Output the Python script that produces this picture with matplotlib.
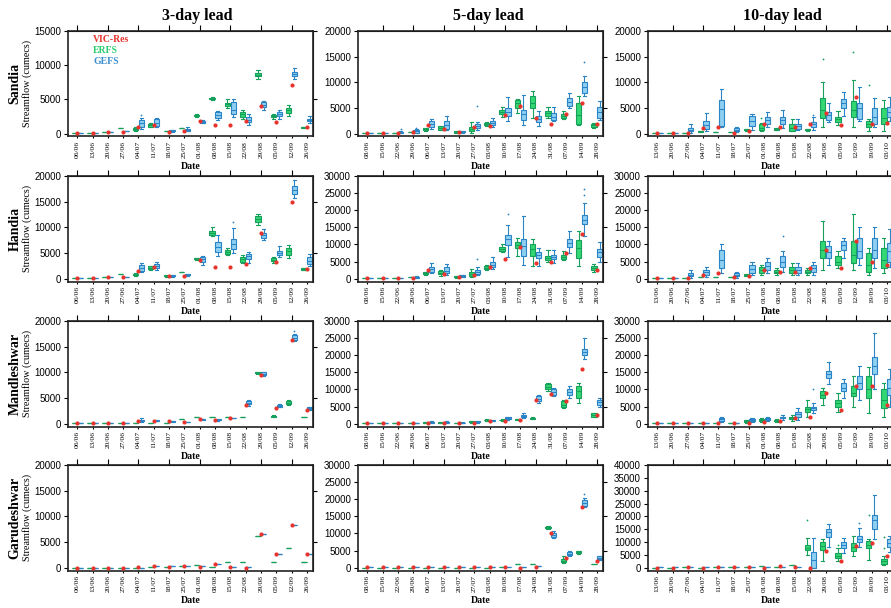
import numpy as np
import matplotlib
matplotlib.use("Agg")
import matplotlib.pyplot as plt

dates3 = ['06/06', '13/06', '20/06', '27/06', '04/07', '11/07', '18/07', '25/07',
          '01/08', '08/08', '15/08', '22/08', '29/08', '05/09', '12/09', '26/09']
dates5 = ['08/06', '15/06', '22/06', '29/06', '06/07', '13/07', '20/07', '27/07',
          '03/08', '10/08', '17/08', '24/08', '31/08', '07/09', '14/09', '28/09']
dates10 = ['13/06', '20/06', '27/06', '04/07', '11/07', '18/07', '25/07', '01/08',
           '08/08', '15/08', '22/08', '29/08', '05/09', '12/09', '19/09', '03/10']

# box entries: (whisker low, q1, median, q3, whisker high) or one value for a flat box
# outliers: (date index, value)

# ---- Sandia ----
sandia3_vic = [100, 100, 250, 250, 1000, 1300, 250, 350, 1800, 1300, 1200, 1800, 4100, 1700, 7100, 950]
sandia3_erfs = [150, 150, 250, 800, (400, 500, 650, 800, 900), (900, 1000, 1200, 1400, 1500), 300, 750,
                (2500, 2600, 2650, 2750, 2800), (4900, 5000, 5100, 5200, 5300), (3800, 4000, 4300, 4500, 5000),
                (2100, 2400, 2800, 3100, 3400), (8000, 8400, 8600, 8900, 9300), (2200, 2400, 2550, 2700, 2800),
                (2600, 3000, 3400, 3800, 4200), (800, 850, 900, 950, 1000)]
sandia3_erfs_out = []
sandia3_gefs = [150, 150, 250, 300, (700, 1000, 1500, 2000, 2300), (900, 1100, 1600, 2100, 2300),
                (250, 300, 350, 450, 500), (300, 400, 550, 700, 900), (1500, 1600, 1750, 1900, 2000),
                (2000, 2300, 2700, 3200, 3300), (2400, 2900, 3500, 4600, 5000), (1300, 1700, 2000, 2400, 2800),
                (3400, 3900, 4200, 4600, 4800), (2100, 2600, 2900, 3200, 3500), (8000, 8400, 8800, 9100, 9600),
                (1500, 1800, 2000, 2200, 2600)]
sandia3_gefs_out = [(4, 2700)]

sandia5_vic = [150, 150, 200, 300, 1600, 800, 250, 1200, 1500, 3600, 5300, 3000, 1900, 3800, 6000, 1900]
sandia5_erfs = [200, 200, 200, 300, (500, 600, 800, 1000, 1100), (600, 700, 1000, 1400, 1500),
                (150, 200, 350, 500, 550), (200, 500, 800, 1300, 2300), (1400, 1600, 1800, 2100, 2200),
                (3300, 3800, 4300, 4700, 5200), (4000, 5000, 5900, 6500, 6800), (3000, 5000, 6000, 7300, 8400),
                (3000, 3500, 4100, 4500, 5200), (2800, 3100, 3500, 3900, 4400), (1700, 1800, 3600, 6000, 7300),
                (1100, 1300, 1600, 1800, 2100)]
sandia5_erfs_out = []
sandia5_gefs = [200, 200, (150, 200, 250, 300, 400), (150, 200, 400, 600, 800), (800, 1300, 1900, 2400, 2900),
                (600, 900, 1600, 2500, 3500), (200, 250, 350, 450, 500), (600, 1000, 1500, 1900, 2200),
                (1200, 1600, 2000, 2400, 3000), (2500, 3500, 4300, 5000, 7200), (1600, 2600, 3800, 4700, 7500),
                (1500, 2200, 2800, 3400, 4400), (2400, 2600, 3300, 4000, 5200), (5000, 5300, 6200, 7000, 8000),
                (7300, 7900, 9200, 10000, 11300), (2700, 3000, 4200, 5200, 6400)]
sandia5_gefs_out = [(2, 900), (3, 1100), (7, 5300), (14, 14100)]

sandia10_vic = [150, 200, 200, 1000, 1300, 200, 400, 1800, 1300, 1300, 1900, 4100, 1700, 7100, 1900, 2100]
sandia10_erfs = [200, 200, 200, (250, 300, 400, 500, 550), 300, 300, (550, 600, 750, 900, 950),
                 (500, 600, 1000, 1800, 2000), (600, 700, 850, 1000, 1100), (400, 500, 1000, 1800, 2900),
                 (550, 600, 750, 900, 950), (1300, 3000, 4600, 6900, 10000), (1700, 2200, 2800, 3300, 4400),
                 (1300, 3300, 4700, 6300, 10400), (500, 1200, 1800, 2500, 2900), (500, 1800, 3000, 5000, 6500)]
sandia10_erfs_out = [(7, 3000), (11, 14500), (13, 16000), (14, 9500)]
sandia10_gefs = [200, 200, (200, 400, 700, 1000, 1800), (400, 900, 1600, 2400, 4000),
                 (1200, 1400, 4800, 6600, 8800), (300, 500, 700, 1000, 1300), (700, 1400, 2500, 3500, 3800),
                 (1200, 1800, 2600, 3300, 4200), (1100, 1800, 2600, 3300, 4700), (600, 800, 1400, 1900, 2800),
                 (600, 1200, 1800, 2200, 3200), (2200, 2700, 3600, 4300, 6000), (3400, 5000, 5900, 6800, 8200),
                 (2500, 2900, 5000, 6000, 9200), (1300, 1900, 3200, 5000, 7000), (2500, 3300, 4200, 5100, 7200)]
sandia10_gefs_out = [(10, 3700)]

# ---- Handia ----
handia3_vic = [150, 150, 300, 300, 1500, 2200, 400, 500, 3600, 2200, 2200, 2800, 9000, 3200, 14900, 1800]
handia3_erfs = [200, 200, 250, 800, (500, 600, 750, 900, 1000), (1700, 1800, 2100, 2400, 2500),
                (350, 400, 500, 600, 650), 1200, (3700, 3800, 3900, 4000, 4100), (8400, 8600, 9000, 9400, 10000),
                (4700, 4900, 5200, 5600, 6000), (3000, 3300, 3800, 4200, 4600), (10500, 11100, 11600, 12200, 12700),
                (3000, 3400, 3700, 4000, 4300), (4000, 4700, 5400, 6000, 6500), (1600, 1700, 1850, 2000, 2100)]
handia3_erfs_out = []
handia3_gefs = [200, 200, 250, 350, (1200, 1500, 2000, 2700, 3100), (1700, 2000, 2400, 2900, 3200),
                (350, 400, 550, 700, 750), (550, 600, 750, 900, 950), (2700, 3300, 3800, 4300, 4500),
                (4500, 5200, 6200, 7200, 8500), (5000, 5700, 6800, 7800, 9800), (3000, 3900, 4400, 4800, 5200),
                (7500, 8000, 8500, 8900, 9700), (4300, 4700, 5000, 5400, 6300), (15700, 16500, 17300, 18100, 19300),
                (2500, 2900, 3500, 4300, 4800)]
handia3_gefs_out = [(10, 11100)]

handia5_vic = [150, 150, 250, 300, 2600, 1200, 500, 1150, 3400, 5800, 9400, 4600, 4800, 7400, 13000, 2600]
handia5_erfs = [200, 200, 250, 350, (1000, 1200, 1500, 1800, 2000), (800, 1200, 1600, 2200, 2500),
                (300, 400, 550, 700, 800), (500, 770, 1300, 1900, 2900), (2500, 2700, 3200, 3650, 3900),
                (7700, 8200, 8800, 9400, 10100), (6500, 9100, 9800, 10600, 12000), (3700, 6700, 8800, 10100, 11700),
                (4800, 5300, 6000, 6700, 8500), (5300, 5800, 6300, 6900, 8200), (3700, 6000, 9000, 11200, 13900),
                (1900, 2400, 3000, 3650, 4300)]
handia5_erfs_out = []
handia5_gefs = [200, 200, 300, (250, 300, 400, 500, 600), (1500, 2000, 2800, 3500, 4500),
                (1000, 1500, 2300, 3500, 4200), (400, 500, 700, 900, 1000), (1000, 1400, 1900, 2400, 3400),
                (2800, 3400, 4000, 4800, 6250), (6400, 9800, 11500, 12700, 15600), (4000, 6700, 9500, 11700, 18300),
                (3800, 6000, 7000, 7900, 9100), (4600, 5600, 6200, 6900, 8500), (7500, 9400, 10500, 11700, 13900),
                (12500, 15900, 17300, 18800, 22100), (5000, 6300, 7700, 8700, 10600)]
handia5_gefs_out = [(7, 5800), (9, 19000), (14, 24500), (14, 26400)]

handia10_vic = [150, 200, 250, 900, 1700, 400, 600, 2500, 1800, 1800, 3000, 8500, 3200, 11000, 5000, 4000]
handia10_erfs = [200, 200, 250, 400, 400, 400, (700, 800, 1000, 1200, 1300), (1000, 1500, 2500, 3500, 4000),
                 (1000, 1500, 2000, 2500, 3000), (1000, 1500, 2500, 3500, 4500), (1000, 1500, 2000, 2500, 3000),
                 (2500, 6000, 8500, 11000, 17000), (3000, 4000, 5000, 6500, 8000), (2500, 4500, 7000, 11000, 19000),
                 (1000, 2000, 4000, 7500, 9000), (1500, 3000, 5500, 9000, 12000)]
handia10_erfs_out = []
handia10_gefs = [200, 200, (300, 700, 1000, 1500, 2500), (500, 1000, 1800, 2500, 3500),
                 (1500, 3000, 5500, 8500, 10000), (300, 700, 1000, 1500, 2000), (1000, 1500, 2800, 4000, 5000),
                 (1500, 2500, 3800, 5000, 6000), (2000, 3500, 5000, 6500, 8000), (1000, 1500, 2500, 3500, 4500),
                 (1000, 2000, 3000, 4000, 5000), (4000, 6000, 7800, 9500, 11000), (6000, 8500, 9800, 11000, 12000),
                 (4000, 6000, 8000, 12000, 15000), (3000, 6000, 8500, 12000, 15000), (3500, 5000, 8000, 10500, 14500)]
handia10_gefs_out = [(8, 12500)]

# ---- Mandleshwar ----
mandle3_vic = [100, 100, 100, 150, 450, 550, 400, 350, 800, 600, 1150, 3600, 9600, 3000, 16400, 2700]
mandle3_erfs = [50, 50, 50, 50, 50, 100, 50, 900, 1200, 1300, 1300, 1200, (9700, 9800, 9900, 10000, 10100),
                (1200, 1300, 1400, 1500, 1600), (3600, 3800, 4100, 4400, 4600), 1300]
mandle3_erfs_out = []
mandle3_gefs = [50, 50, 50, 100, (300, 400, 500, 700, 1000), (450, 500, 550, 600, 650), (250, 300, 400, 450, 500),
                300, (650, 700, 800, 900, 950), (550, 600, 700, 800, 850), 1150, (3500, 3800, 4100, 4400, 4600),
                (9400, 9500, 9700, 10000, 10100), (3200, 3300, 3500, 3700, 3800),
                (16200, 16400, 16800, 17300, 17600), (2700, 2800, 3000, 3200, 3300)]
mandle3_gefs_out = [(14, 18200)]

mandle5_vic = [100, 100, 100, 150, 300, 300, 250, 300, 700, 800, 1000, 7000, 8800, 6500, 16000, 2500]
mandle5_erfs = [200, 200, 200, 200, (200, 250, 300, 350, 400), (200, 250, 300, 350, 400), 200,
                (300, 400, 500, 600, 700), (800, 900, 1000, 1100, 1200), (800, 900, 1000, 1100, 1200),
                (1000, 1100, 1200, 1300, 1400), (1200, 1400, 1500, 1600, 1800), (9500, 10000, 10800, 11500, 12000),
                (4500, 5000, 5500, 6500, 7000), (6000, 7500, 9500, 11000, 12000), (1800, 2000, 2500, 3000, 3200)]
mandle5_erfs_out = []
mandle5_gefs = [200, 200, 200, 200, (200, 300, 400, 500, 600), (200, 300, 400, 500, 600), (150, 200, 250, 300, 350),
                (300, 400, 500, 600, 700), (600, 700, 800, 900, 1000), (1000, 1200, 1500, 1800, 2000),
                (1500, 1800, 2200, 2500, 3000), (6000, 6500, 7200, 8000, 8500), (8000, 8500, 9200, 10000, 10500),
                (7500, 8500, 9300, 10000, 11000), (19000, 20000, 21000, 22000, 25000), (5000, 5500, 6200, 7000, 7500)]
mandle5_gefs_out = []

mandle10_vic = [100, 100, 100, 200, 300, 300, 300, 500, 800, 1500, 2000, 9000, 4000, 11000, 11000, 5500]
mandle10_erfs = [100, 100, 100, 200, 200, 200, (300, 500, 700, 900, 1000), (500, 800, 1000, 1300, 1500),
                 (500, 700, 800, 1000, 1200), (800, 1200, 1500, 2000, 2500), (2000, 3500, 4200, 5000, 7000),
                 (5500, 7500, 8500, 9500, 10500), (3500, 5000, 6000, 7000, 9000), (5000, 8000, 9000, 11000, 14000),
                 (3000, 7500, 10000, 14000, 16500), (2000, 4500, 7000, 10000, 12000)]
mandle10_erfs_out = []
mandle10_gefs = [100, 100, 200, 300, (500, 800, 1200, 1500, 2000), 300, (500, 700, 1000, 1300, 1600),
                 (800, 1100, 1400, 1700, 2000), (1000, 1500, 1800, 2000, 2500), (1000, 2000, 2800, 3500, 4500),
                 (3000, 4000, 4500, 5000, 6000), (11500, 13500, 14500, 15500, 18000), (7500, 9500, 10500, 12000, 13000),
                 (7000, 10000, 12000, 14000, 17000), (10000, 14500, 17000, 19500, 26500), (5000, 8500, 10500, 13000, 16000)]
mandle10_gefs_out = [(10, 10000)]

# ---- Garudeshwar ----
garud3_vic = [0, 0, 0, 0, 100, 300, 200, 300, 100, 600, 200, 0, 6600, 2600, 8400, 2600]
garud3_erfs = [0, 0, 0, 0, 0, 100, 100, 300, 500, 200, 1100, 1100, 6200, 1100, 3900, 1100]
garud3_erfs_out = []
garud3_gefs = [0, 0, 0, 0, 0, 300, 300, 300, 300, 600, 200, 100, 6600, 2600, 8300, 2600]
garud3_gefs_out = []

garud5_vic = [100, 100, 100, 100, 200, 200, 200, 200, 200, 200, 0, 200, 10000, 2800, 17800, 1800]
garud5_erfs = [0, 0, 0, 0, 0, 0, 0, 0, 0, 300, 1000, 900, (11400, 11500, 11800, 12000, 12100),
               (1200, 1500, 2000, 2500, 3300), (4000, 4200, 4500, 4800, 5000), 1000]
garud5_erfs_out = []
garud5_gefs = [100, 100, 100, 100, 300, 300, 300, 300, 200, 300, 100, 400, (8800, 9000, 9500, 10200, 10600),
               (3500, 3700, 4100, 4600, 4800), (17800, 18200, 19000, 19800, 20500), (2300, 2500, 2800, 3300, 3500)]
garud5_gefs_out = [(14, 21500)]

garud10_vic = [0, 0, 100, 0, 200, 300, 100, 0, 600, 200, 0, 6500, 2500, 8500, 9500, 4500]
garud10_erfs = [0, 0, 100, 0, 200, 300, 300, 700, 300, 1000, (5000, 6800, 7800, 8700, 11500),
                (2700, 7000, 8500, 10000, 11000), (2500, 3800, 4500, 5500, 7500), (4500, 6500, 8000, 9500, 12500),
                (3000, 7500, 9000, 10500, 11000), (1000, 1500, 2500, 3500, 4500)]
garud10_erfs_out = [(10, 18600), (12, 9000), (14, 20500), (15, 7500), (15, 12000)]
garud10_gefs = [100, 100, 200, 200, 300, 300, 300, 300, 300, 400, (0, 0, 3000, 6200, 11500),
                (8000, 12000, 13800, 15000, 17000), (5500, 7500, 8800, 10000, 11500), (8000, 10000, 11300, 12500, 15500),
                (11000, 15000, 18500, 20500, 28500), (6000, 8000, 9500, 11000, 12500)]
garud10_gefs_out = [(13, 17500)]

stations = ['Sandia', 'Handia', 'Mandleshwar', 'Garudeshwar']
leads = ['3-day lead', '5-day lead', '10-day lead']
ymax = [[15000, 20000, 20000], [20000, 30000, 30000], [20000, 30000, 30000], [20000, 30000, 40000]]

panels = [
    [(sandia3_vic, sandia3_erfs, sandia3_erfs_out, sandia3_gefs, sandia3_gefs_out),
     (sandia5_vic, sandia5_erfs, sandia5_erfs_out, sandia5_gefs, sandia5_gefs_out),
     (sandia10_vic, sandia10_erfs, sandia10_erfs_out, sandia10_gefs, sandia10_gefs_out)],
    [(handia3_vic, handia3_erfs, handia3_erfs_out, handia3_gefs, handia3_gefs_out),
     (handia5_vic, handia5_erfs, handia5_erfs_out, handia5_gefs, handia5_gefs_out),
     (handia10_vic, handia10_erfs, handia10_erfs_out, handia10_gefs, handia10_gefs_out)],
    [(mandle3_vic, mandle3_erfs, mandle3_erfs_out, mandle3_gefs, mandle3_gefs_out),
     (mandle5_vic, mandle5_erfs, mandle5_erfs_out, mandle5_gefs, mandle5_gefs_out),
     (mandle10_vic, mandle10_erfs, mandle10_erfs_out, mandle10_gefs, mandle10_gefs_out)],
    [(garud3_vic, garud3_erfs, garud3_erfs_out, garud3_gefs, garud3_gefs_out),
     (garud5_vic, garud5_erfs, garud5_erfs_out, garud5_gefs, garud5_gefs_out),
     (garud10_vic, garud10_erfs, garud10_erfs_out, garud10_gefs, garud10_gefs_out)],
]
date_sets = [dates3, dates5, dates10]

RED = '#e8342c'
G_FILL, G_EDGE = '#34d873', '#16a05c'
B_FILL, B_EDGE = '#8fd0f2', '#2a84c6'
SERIF = 'Liberation Serif'
SANS = 'Liberation Sans'


def box_stats(entries, outliers):
    res = []
    for i, e in enumerate(entries):
        if np.isscalar(e):
            lo = q1 = med = q3 = hi = e
        else:
            lo, q1, med, q3, hi = e
        res.append(dict(whislo=lo, q1=q1, med=med, q3=q3, whishi=hi,
                        fliers=[v for j, v in outliers if j == i]))
    return res


def draw_boxes(ax, stats, pos, fill, edge):
    ax.bxp(stats, positions=pos, widths=0.34, capwidths=0.2, patch_artist=True,
           boxprops=dict(facecolor=fill, edgecolor=edge, linewidth=0.8),
           whiskerprops=dict(color=edge, linewidth=0.8),
           capprops=dict(color=edge, linewidth=0.8),
           medianprops=dict(color=edge, linewidth=0.8),
           flierprops=dict(marker='o', markersize=1.3, markerfacecolor=edge,
                           markeredgecolor='none'))


W, H = 891, 608
fig = plt.figure(figsize=(W / 100, H / 100), dpi=100)

col_left = [68, 358, 648]
row_top = [31, 176, 321, 465]
ax_w, ax_h = 245, 105.5
title_x = [197, 488, 782]

for r in range(4):
    for c in range(3):
        ax = fig.add_axes([col_left[c] / W, 1 - (row_top[r] + ax_h) / H, ax_w / W, ax_h / H])
        vic, erfs, erfs_out, gefs, gefs_out = panels[r][c]
        x = np.arange(len(date_sets[c]))
        draw_boxes(ax, box_stats(erfs, erfs_out), x - 0.19, G_FILL, G_EDGE)
        draw_boxes(ax, box_stats(gefs, gefs_out), x + 0.19, B_FILL, B_EDGE)
        ax.plot(x, vic, 'o', color=RED, markersize=3, markeredgewidth=0, zorder=6)

        top = ymax[r][c]
        ax.set_xlim(-0.6, 15.4)
        ax.set_ylim(-top * 0.029, top * 1.004)
        yt = np.arange(0, top + 1, 5000)
        ax.set_yticks(yt)
        ax.set_yticklabels([str(v) for v in yt], fontsize=7, family=SANS)
        ax.set_xticks(x)
        ax.set_xticklabels(date_sets[c], rotation=90, fontsize=5.4, family=SERIF)
        ax.tick_params(axis='y', direction='out', length=3, width=0.8, pad=2)
        ax.tick_params(axis='x', direction='out', length=1.5, width=0.8, pad=1.5)
        for s in ax.spines.values():
            s.set_linewidth(1.2)
            s.set_color('#222222')

        sec = ax.secondary_xaxis('top')
        sec.set_xticks(x[::2] if c == 0 else x[1::2])
        sec.set_xticklabels([])
        sec.tick_params(direction='out', length=4, width=0.8)
        secy = ax.secondary_yaxis('right')
        secy.set_yticks(yt[1::2])
        secy.set_yticklabels([])
        secy.tick_params(direction='out', length=3, width=0.8)

        ax.text(0.5, -0.28, 'Date', transform=ax.transAxes, ha='center', va='center',
                fontsize=7, fontweight='bold', family=SERIF)

        if c == 0:
            yc = 1 - (row_top[r] + ax_h / 2) / H
            fig.text(15 / W, yc, stations[r], rotation=90, ha='center', va='center',
                     fontsize=10, fontweight='bold', family=SERIF)
            fig.text(27.5 / W, yc, 'Streamflow (cumecs)', rotation=90, ha='center', va='center',
                     fontsize=7.3, family=SERIF)

for c in range(3):
    fig.text(title_x[c] / W, 1 - 20 / H, leads[c], ha='center', va='baseline',
             fontsize=11.5, fontweight='bold', family=SERIF)

for label, color, yy in [('VIC-Res', RED, 40), ('ERFS', '#2ecc71', 50.5), ('GEFS', '#3a8fd0', 61)]:
    fig.text(93 / W, 1 - yy / H, label, color=color, ha='left', va='center',
             fontsize=7, fontweight='bold', family=SERIF)

fig.savefig('out.png', dpi=100)
